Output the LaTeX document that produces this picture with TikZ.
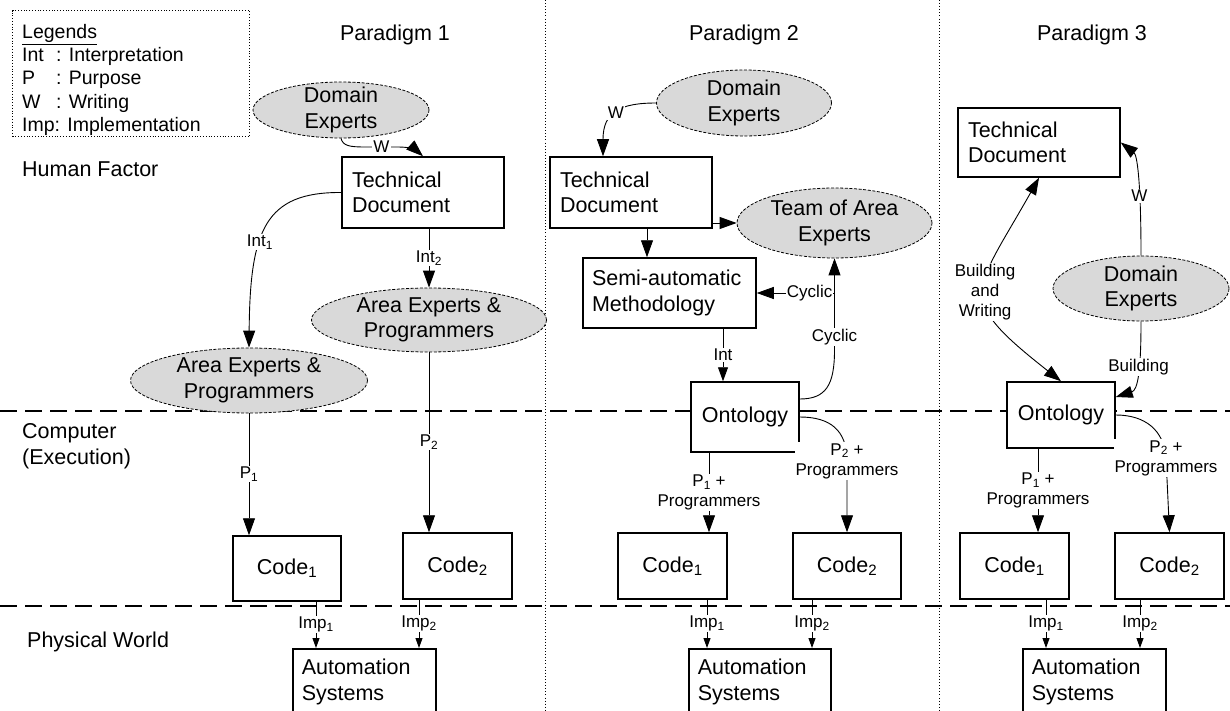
\documentclass[tikz,border=0pt]{standalone}
\usepackage{fontspec}
\setmainfont{Liberation Sans}
\usetikzlibrary{arrows.meta,shapes.geometric,calc}
\definecolor{ellgray}{RGB}{217,217,217}
\newcommand\mainfnt{\fontsize{21.5}{25.5}\selectfont}
\newcommand\lblfnt{\fontsize{17}{20}\selectfont}
\newcommand\legfnt{\fontsize{19.5}{23.25}\selectfont}
\tikzset{
  box/.style={draw, line width=1.5pt, fill=white, inner ysep=0pt, font=\mainfnt},
  lbox/.style={box, align=left},
  cbox/.style={box, align=center, inner xsep=0pt},
  ell/.style={ellipse, draw, line width=0.8pt, dash pattern=on 3pt off 1.6pt, fill=ellgray, inner sep=0pt},
  elltext/.style={font=\mainfnt, align=center, inner sep=0pt},
  lbl/.style={font=\lblfnt, fill=white, inner sep=1pt, align=center},
  arr/.style={draw, line width=0.9pt, -{Triangle[length=17pt,width=12pt]}},
  arrm/.style={draw, line width=0.9pt, -{Triangle[length=14pt,width=10pt]}},
  arrs/.style={draw, line width=0.9pt, -{Triangle[length=10pt,width=7pt]}},
  arrboth/.style={draw, line width=0.9pt, {Triangle[length=17pt,width=12pt]}-{Triangle[length=17pt,width=12pt]}},
  vsep/.style={line width=0.9pt, dash pattern=on 0.9pt off 2.2pt},
  hsep/.style={line width=1.6pt, dash pattern=on 17pt off 8pt},
  rowlbl/.style={font=\mainfnt, align=left, inner sep=0pt},
}
\begin{document}
\begin{tikzpicture}[x=1pt,y=-1pt]
\useasboundingbox (0,0) rectangle (1230,711);
% separators
\draw[vsep] (545.5,0) -- (545.5,711);
\draw[vsep] (939,0) -- (939,711);
\draw[hsep] (0,411) -- (1230,411);
\draw[hsep] (0,606) -- (1230,606);

% legend
\node[draw, line width=1.1pt, dash pattern=on 1pt off 1.8pt, minimum width=237pt, minimum height=126pt, anchor=north west, inner sep=0pt] (legend) at (12,10) {};
\node[anchor=north west, font=\legfnt, align=left, inner sep=0pt] (legendtext) at (22,24)
  {\underline{Legends}\\\makebox[34pt][l]{Int}: Interpretation\\\makebox[34pt][l]{P}: Purpose\\\makebox[34pt][l]{W}: Writing\\Imp: Implementation};

% headers and row labels
\node[font=\mainfnt, inner sep=0pt] (hp1) at (395,35) {Paradigm 1};
\node[font=\mainfnt, inner sep=0pt] (hp2) at (744,35) {Paradigm 2};
\node[font=\mainfnt, inner sep=0pt] (hp3) at (1092,35) {Paradigm 3};
\node[rowlbl, anchor=west] (rhf) at (22,169) {Human Factor};
\node[rowlbl, anchor=west] (rce) at (22,446) {Computer\\(Execution)};
\node[rowlbl, anchor=west] (rpw) at (27,642) {Physical World};

% ---------------- Paradigm 1
\node[ell, minimum width=176pt, minimum height=56pt, label={[elltext]center:Domain\\Experts}] (de1) at (341,110) {};
\node[lbox, minimum width=162pt, minimum height=71pt, text width=142pt, inner xsep=10pt] (tech1) at (423,192.5) {Technical\\Document};
\node[ell, minimum width=235pt, minimum height=64pt, label={[elltext]center:Area Experts \&\\Programmers}] (aepB) at (429,320) {};
\node[ell, minimum width=237pt, minimum height=65pt, label={[elltext]center:Area Experts \&\\Programmers}] (aepA) at (249,380.5) {};
\node[cbox, minimum width=108pt, minimum height=65pt] (code1a) at (287,568.5) {Code\textsubscript{1}};
\node[cbox, minimum width=109pt, minimum height=66pt] (code2a) at (457.5,566) {Code\textsubscript{2}};
\node[lbox, anchor=north west, minimum width=143pt, minimum height=66pt, text width=125pt, inner xsep=9pt] (auto1) at (292,648) {Automation\\Systems};

\draw[arr] (de1.south) .. controls (343,146) and (350,147) .. (365,147) -- node[lbl]{W} (398,147) .. controls (410,147) and (416,150) .. (tech1.north);
\draw[arr] (tech1.west) .. controls (265,192) and (250,230) .. node[lbl,pos=0.6]{Int\textsubscript{1}} (aepA.north);
\draw[arr] (tech1.south -| aepB.north) -- node[lbl]{Int\textsubscript{2}} (aepB.north);
\draw[arr] (aepA.south) -- node[lbl]{P\textsubscript{1}} (aepA.south |- code1a.north);
\draw[arr] (aepB.south) -- node[lbl]{P\textsubscript{2}} (aepB.south |- code2a.north);
\draw[arrs] ($(code1a.south)+(29,0)$) -- node[lbl]{Imp\textsubscript{1}} ($(code1a.south |- auto1.north)+(29,0)$);
\draw[arrs] ($(code2a.south)+(-38.5,0)$) -- node[lbl]{Imp\textsubscript{2}} ($(code2a.south |- auto1.north)+(-38.5,0)$);

% ---------------- Paradigm 2
\node[ell, minimum width=175pt, minimum height=66pt, label={[elltext]center:Domain\\Experts}] (de2) at (744,103) {};
\node[lbox, minimum width=162pt, minimum height=71pt, text width=142pt, inner xsep=10pt] (tech2) at (631,192.5) {Technical\\Document};
\node[ell, minimum width=195pt, minimum height=70pt, label={[elltext]center:Team of Area\\Experts}] (team) at (834.5,223) {};
\node[lbox, minimum width=173pt, minimum height=70pt, text width=155pt, inner xsep=9pt] (semi) at (669.5,293) {Semi-automatic\\Methodology};
\node[cbox, minimum width=108pt, minimum height=70pt] (ont2) at (745,417) {Ontology};
\node[cbox, minimum width=109pt, minimum height=66pt] (code1b) at (672.5,566) {Code\textsubscript{1}};
\node[cbox, minimum width=108pt, minimum height=66pt] (code2b) at (847,566) {Code\textsubscript{2}};
\node[lbox, anchor=north west, minimum width=142pt, minimum height=66pt, text width=124pt, inner xsep=9pt] (auto2) at (688,648) {Automation\\Systems};
\coordinate (cyc) at (team.south |- semi.east);

\draw[arr] (de2.west) .. controls (620,103) and (603,112) .. node[lbl,pos=0.5]{W} ($(tech2.north)+(-28,0)$);
\draw[arr] (tech2.east |- team.west) -- (team.west);
\draw[arr] ($(tech2.south)+(16,0)$) -- ($(tech2.south |- semi.north)+(16,0)$);
\draw[arr] ($(ont2.east)+(0,-18)$) .. controls (826,399) and (834.5,385) .. (834.5,350) -- node[lbl,pos=0.14]{Cyclic} (team.south);
\draw[arr] (cyc) -- node[lbl,pos=0.32]{Cyclic} (semi.east);
\draw[arrm] ($(semi.south)+(53.5,0)$) -- node[lbl]{Int} ($(semi.south |- ont2.north)+(53.5,0)$);
\draw[arr] ($(ont2.south)+(-36,0)$) -- node[lbl]{P\textsubscript{1} +\\Programmers} ($(ont2.south |- code1b.north)+(-36,0)$);
\draw[arr] (ont2.east) .. controls (830,417) and (847,430) .. (847,461) node[lbl]{P\textsubscript{2} +\\Programmers} -- (code2b.north);
\draw[arrs] ($(code1b.south)+(34.5,0)$) -- node[lbl]{Imp\textsubscript{1}} ($(code1b.south |- auto2.north)+(34.5,0)$);
\draw[arrs] ($(code2b.south)+(-35,0)$) -- node[lbl]{Imp\textsubscript{2}} ($(code2b.south |- auto2.north)+(-35,0)$);

% ---------------- Paradigm 3
\node[lbox, minimum width=162pt, minimum height=69pt, text width=142pt, inner xsep=10pt] (tech3) at (1039,142.5) {Technical\\Document};
\node[ell, minimum width=176pt, minimum height=65pt, label={[elltext]center:Domain\\Experts}] (de3) at (1141,288.5) {};
\node[cbox, minimum width=108pt, minimum height=66pt] (ont3) at (1061,415) {Ontology};
\node[cbox, minimum width=109pt, minimum height=66pt] (code1c) at (1014.5,566) {Code\textsubscript{1}};
\node[cbox, minimum width=109pt, minimum height=66pt] (code2c) at (1169.5,566) {Code\textsubscript{2}};
\node[lbox, anchor=north west, minimum width=143pt, minimum height=66pt, text width=125pt, inner xsep=9pt] (auto3) at (1022,648) {Automation\\Systems};

\draw[arr] (de3.north) .. controls (1141,180) and (1137,155) .. node[lbl,pos=0.33]{W} (tech3.east);
\draw[arrboth] (tech3.south) .. controls (973,295) and (954,297) .. node[lbl]{Building\\and\\Writing} (ont3.north);
\draw[arr] (de3.south) .. controls (1141,370) and (1138,390) .. node[lbl,pos=0.4]{Building} ($(ont3.east)+(0,-18)$);
\draw[arr] ($(ont3.south)+(-23,0)$) -- node[lbl]{P\textsubscript{1} +\\Programmers} ($(ont3.south |- code1c.north)+(-23,0)$);
\draw[arr] (ont3.east) .. controls (1145,415) and (1164,430) .. (1166,458) node[lbl]{P\textsubscript{2} +\\Programmers} -- (code2c.north);
\draw[arrs] ($(code1c.south)+(31.5,0)$) -- node[lbl]{Imp\textsubscript{1}} ($(code1c.south |- auto3.north)+(31.5,0)$);
\draw[arrs] ($(code2c.south)+(-29.5,0)$) -- node[lbl]{Imp\textsubscript{2}} ($(code2c.south |- auto3.north)+(-29.5,0)$);
\end{tikzpicture}
\end{document}
